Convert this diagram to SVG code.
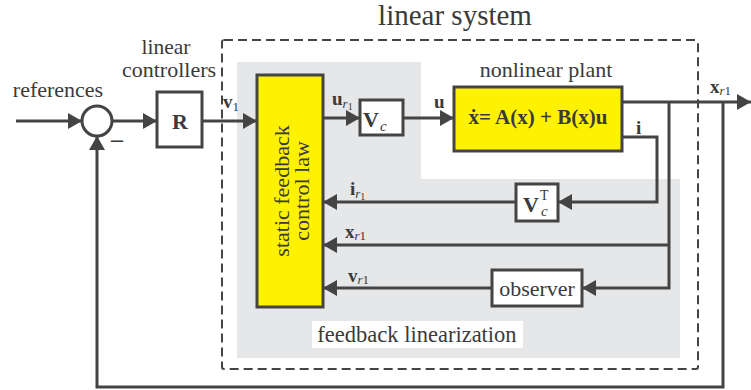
<svg xmlns="http://www.w3.org/2000/svg" width="751" height="390" viewBox="0 0 751 390">
<style>
.t{font-family:"Liberation Serif","Times New Roman",serif;fill:#3a3a3a;font-size:22px}
.b{font-weight:bold}
.lab{font-family:"Liberation Serif","Times New Roman",serif;fill:#3a3a3a;font-size:19px;font-weight:bold}
.sub{font-size:13px;font-weight:normal;font-style:italic}
.sub1{font-size:13px;font-weight:normal;font-style:normal}
.box{fill:#fff;stroke:#444;stroke-width:3}
.yel{fill:#fff200;stroke:#444;stroke-width:3}
.c{fill:none;stroke:#444;stroke-width:3}
</style>
<defs>
<marker id="ah" markerUnits="userSpaceOnUse" viewBox="0 0 14 16" markerWidth="14" markerHeight="16" refX="14" refY="8" orient="auto">
<path d="M0,0 L14,8 L0,16 Z" fill="#444"/>
</marker>
</defs>
<rect width="751" height="390" fill="#fff"/>
<g id="linear-system">
<rect x="222" y="40" width="476" height="329" rx="2" fill="none" stroke="#444" stroke-width="2" stroke-dasharray="9,5"/>
<text class="t" x="455" y="25" text-anchor="middle" style="font-size:29px">linear system</text>
</g>
<g id="feedback-linearization">
<path d="M237,62 H421 V179 H680 V358 H237 Z" fill="#e6e7e8"/>
<rect x="312" y="321" width="211" height="27" fill="#fff"/>
<text class="t" x="417" y="342" text-anchor="middle" style="font-size:22.5px">feedback linearization</text>
</g>
<g id="connectors">
<line class="c" x1="16" y1="121" x2="82" y2="121" marker-end="url(#ah)"/>
<line class="c" x1="112" y1="121" x2="157" y2="121" marker-end="url(#ah)"/>
<line class="c" x1="202" y1="121" x2="257" y2="121" marker-end="url(#ah)"/>
<line class="c" x1="323" y1="118" x2="360" y2="118" marker-end="url(#ah)"/>
<line class="c" x1="403" y1="118" x2="454" y2="118" marker-end="url(#ah)"/>
<line class="c" x1="622" y1="102" x2="751" y2="102" marker-end="url(#ah)"/>
<path class="c" d="M622,137 H657 V202 H558" marker-end="url(#ah)"/>
<line class="c" x1="516" y1="202" x2="323" y2="202" marker-end="url(#ah)"/>
<path class="c" d="M669,102 V288 H582" marker-end="url(#ah)"/>
<line class="c" x1="669" y1="245" x2="323" y2="245" marker-end="url(#ah)"/>
<line class="c" x1="492" y1="288" x2="323" y2="288" marker-end="url(#ah)"/>
<path class="c" d="M723,102 V387 H97 V136" marker-end="url(#ah)"/>
</g>
<g id="references-label">
<text class="t" x="58" y="97" text-anchor="middle">references</text>
</g>
<g id="sum">
<circle cx="97" cy="121" r="15" fill="#fff" stroke="#444" stroke-width="3"/>
<text class="t b" x="117" y="147" text-anchor="middle" style="font-size:24px">–</text>
</g>
<g id="R">
<text class="t" x="166" y="54" text-anchor="middle" style="font-size:21.5px">linear</text>
<text class="t" x="169" y="77" text-anchor="middle">controllers</text>
<rect class="box" x="157" y="92" width="45" height="55"/>
<text class="t b" x="180" y="129" text-anchor="middle">R</text>
</g>
<g id="control-law">
<rect class="yel" x="257" y="75" width="66" height="232"/>
<text class="t" transform="translate(289,191) rotate(-90)" text-anchor="middle">static feedback</text>
<text class="t" transform="translate(309,191) rotate(-90)" text-anchor="middle">control law</text>
</g>
<g id="Vc">
<rect class="box" x="360" y="100" width="43" height="35"/>
<text class="t b" x="363" y="127">V<tspan dx="1" dy="4" style="font-size:15px;font-style:italic;font-weight:normal">c</tspan></text>
</g>
<g id="plant">
<text class="t" x="546" y="77" text-anchor="middle">nonlinear plant</text>
<rect class="yel" x="454" y="87" width="168" height="64"/>
<text class="t b" x="538" y="124" text-anchor="middle" style="font-size:21px">ẋ= A(x) + B(x)u</text>
</g>
<g id="VcT">
<rect class="box" x="516" y="184" width="42" height="37"/>
<text class="t b" x="523" y="212">V</text>
<text class="t" x="540" y="200" style="font-size:14px">T</text>
<text class="t" x="541" y="216" style="font-size:15px;font-style:italic">c</text>
</g>
<g id="observer">
<rect class="box" x="492" y="270" width="90" height="36"/>
<text class="t" x="537" y="296" text-anchor="middle">observer</text>
</g>
<g id="labels">
<text class="lab" x="223" y="108">v<tspan class="sub1" dy="3">1</tspan></text>
<text class="lab" x="332" y="105">u<tspan class="sub" dy="3">r</tspan><tspan class="sub1" dy="2" style="font-size:10px">1</tspan></text>
<text class="lab" x="434" y="108">u</text>
<text class="lab" x="636" y="134">i</text>
<text class="lab" x="710" y="93">x<tspan class="sub" dy="2">r</tspan><tspan class="sub1">1</tspan></text>
<text class="lab" x="350" y="195">i<tspan class="sub" dy="3">r</tspan><tspan class="sub1" dy="2" style="font-size:10px">1</tspan></text>
<text class="lab" x="345" y="238">x<tspan class="sub" dy="2">r</tspan><tspan class="sub1">1</tspan></text>
<text class="lab" x="348" y="282">v<tspan class="sub" dy="2">r</tspan><tspan class="sub1">1</tspan></text>
</g>
</svg>
